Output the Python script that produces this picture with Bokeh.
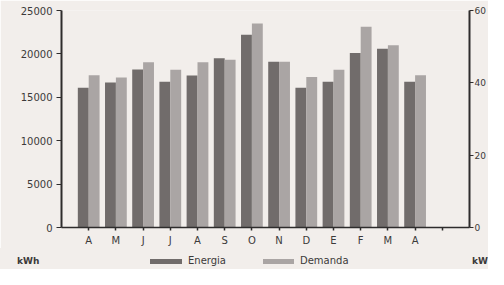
from bokeh.plotting import figure
from bokeh.models import Range1d, LinearAxis, FixedTicker, Div
from bokeh.layouts import column
from bokeh.embed import file_html
from bokeh.resources import INLINE

# ---- data ----
months = ["A", "M", "J", "J", "A", "S", "O", "N", "D", "E", "F", "M", "A"]
energia_kwh = [16100, 16700, 18200, 16800, 17500, 19500, 22200, 19100, 16100, 16800, 20100, 20600, 16800]
demanda_kw = [42.1, 41.5, 45.7, 43.6, 45.7, 46.4, 56.4, 45.8, 41.6, 43.6, 55.5, 50.4, 42.1]
left_ticks = [0, 5000, 10000, 15000, 20000, 25000]
right_ticks = [0, 20, 40, 60]
x_tick_labels = months + [""]
series_names = ["Energia", "Demanda"]
unit_labels = ["kWh", "kW"]

BG = "#f2eeeb"
INK = "#2e2c2c"
TXT = "#3c3a3a"
C_EN = "#716c6b"
C_DE = "#aaa5a4"
FONT = "DejaVu Sans"
W = 488
H1 = 248
H2 = 21

pos = list(range(1, len(months) + 1))
x_ticks = list(range(1, len(x_tick_labels) + 1))

p = figure(width=W, height=H1, output_backend="svg", toolbar_location=None,
           x_range=Range1d(0, 15), y_range=Range1d(0, 25000),
           min_border_left=61, min_border_right=17, min_border_top=10, min_border_bottom=19)
p.extra_y_ranges = {"kw": Range1d(0, 60)}
p.background_fill_color = BG
p.border_fill_color = BG
p.outline_line_color = None
p.xgrid.visible = False
p.ygrid.visible = False

p.vbar(x=[x - 0.2 for x in pos], top=energia_kwh, width=0.4, bottom=0,
       fill_color=C_EN, line_color=None)
p.vbar(x=[x + 0.2 for x in pos], top=demanda_kw, width=0.4, bottom=0,
       fill_color=C_DE, line_color=None, y_range_name="kw")

# x axis
xa = p.xaxis[0]
xa.ticker = FixedTicker(ticks=x_ticks)
xa.major_label_overrides = {t: l for t, l in zip(x_ticks, x_tick_labels)}
xa.minor_tick_line_color = None
xa.major_tick_in = 0
xa.major_tick_out = 3
xa.major_label_standoff = 4
xa.axis_line_width = 1.5
xa.axis_line_color = INK
xa.major_tick_line_color = INK
xa.major_tick_line_width = 1.5
xa.major_label_text_font = FONT
xa.major_label_text_font_size = "10px"
xa.major_label_text_color = TXT

# left axis
ya = p.yaxis[0]
ya.ticker = FixedTicker(ticks=left_ticks)
ya.minor_tick_line_color = None
ya.major_tick_in = 0
ya.major_tick_out = 5
ya.major_label_standoff = 4
ya.axis_line_width = 2
ya.axis_line_color = INK
ya.major_tick_line_color = INK
ya.major_label_text_font = FONT
ya.major_label_text_font_size = "10px"
ya.major_label_text_color = TXT

# right axis
ra = LinearAxis(y_range_name="kw", ticker=FixedTicker(ticks=right_ticks))
ra.minor_tick_line_color = None
ra.major_tick_in = 0
ra.major_tick_out = 4
ra.major_label_standoff = 1
ra.axis_line_width = 2
ra.axis_line_color = INK
ra.major_tick_line_color = INK
ra.major_label_text_font = FONT
ra.major_label_text_font_size = "9px"
ra.major_label_text_color = TXT
p.add_layout(ra, "right")

# ---- strip below the chart: unit labels and legend ----
base = "position:absolute;top:6px;height:14px;line-height:14px;"
sw = "position:absolute;top:11px;height:5px;"
html = (
    f'<div style="position:relative;width:{W}px;height:{H2}px;background:{BG};'
    f'font-family:\'{FONT}\';color:{TXT};white-space:nowrap;overflow:hidden;">'
    f'<span style="{base}left:17px;font-size:9px;font-weight:bold;">{unit_labels[0]}</span>'
    f'<span style="{sw}left:150px;width:32px;background:{C_EN};"></span>'
    f'<span style="{base}left:188px;font-size:10px;">{series_names[0]}</span>'
    f'<span style="{sw}left:263px;width:31px;background:{C_DE};"></span>'
    f'<span style="{base}left:300px;font-size:10px;">{series_names[1]}</span>'
    f'<span style="{base}left:472px;font-size:9px;font-weight:bold;">{unit_labels[1]}</span>'
    '</div>'
)
strip = Div(text=html, width=W, height=H2, margin=0)

layout = column(p, strip, spacing=0)

open("out.html", "w").write(file_html(layout, INLINE))
